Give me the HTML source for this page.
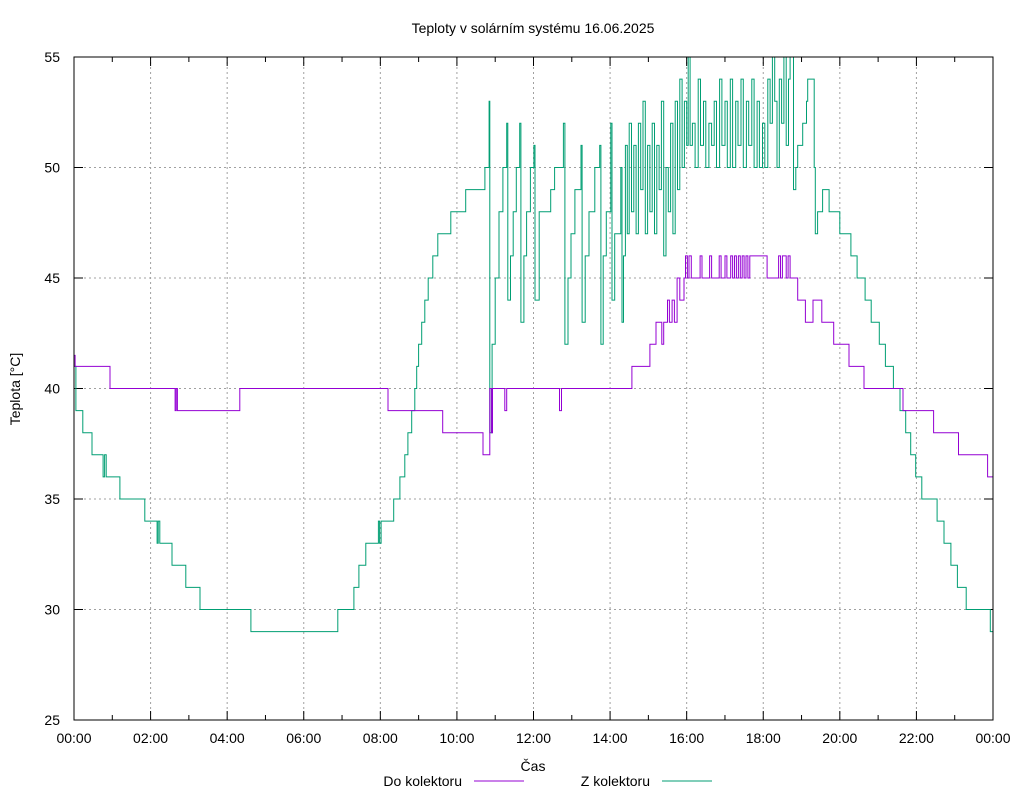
<!DOCTYPE html>
<html><head><meta charset="utf-8"><style>
body{margin:0;background:#fff;}
svg{display:block;font-family:"Liberation Sans",Arial,sans-serif;}
</style></head><body>
<svg id="chart" width="1024" height="800" viewBox="0 0 1024 800" xmlns="http://www.w3.org/2000/svg">
<rect x="0" y="0" width="1024" height="800" fill="#fff"/>
<text x="533" y="33" text-anchor="middle" font-size="14">Teploty v solárním systému 16.06.2025</text>
<g id="grid"></g>
<g id="ticks"></g>
<g id="series"></g>
<rect x="74" y="57" width="919" height="663" fill="none" stroke="#000" stroke-width="1"/>
<text x="20" y="389" text-anchor="middle" font-size="14" transform="rotate(-90 20 389)">Teplota [°C]</text>
<text x="533" y="771" text-anchor="middle" font-size="14">Čas</text>
<g>
<text x="462" y="786" text-anchor="end" font-size="14">Do kolektoru</text>
<line x1="474" y1="781" x2="524" y2="781" stroke="#9400d3" stroke-width="1"/>
</g>
<g>
<text x="650" y="786" text-anchor="end" font-size="14">Z kolektoru</text>
<line x1="662" y1="781" x2="712" y2="781" stroke="#009e73" stroke-width="1"/>
</g>
</svg>
<script>
const xTickLabels=["00:00","02:00","04:00","06:00","08:00","10:00","12:00","14:00","16:00","18:00","20:00","22:00","00:00"];
const yTickValues=[25,30,35,40,45,50,55];
// Do kolektoru: times (hours) and values (°C), step-after
const doTimes=[0,0.03,0.94,2.64,2.67,2.70,4.30,4.33,8.20,9.63,10.68,10.86,10.90,10.93,11.25,11.30,12.68,12.73,14.57,15.04,15.20,15.35,15.40,15.50,15.55,15.62,15.68,15.75,15.82,15.93,15.97,16.02,16.06,16.12,16.20,16.35,16.40,16.60,16.65,16.85,16.90,17.00,17.05,17.15,17.20,17.25,17.30,17.35,17.40,17.45,17.50,17.55,17.60,17.65,18.05,18.10,18.40,18.45,18.50,18.60,18.65,18.70,18.90,19.10,19.30,19.53,19.84,20.24,20.63,21.65,22.45,23.10,23.86];
const doValues=[41.5,41,40,39,40,39,39,40,39,38,37,40,38,40,39,40,39,40,41,42,43,42,43,44,43,44,43,45,44,45,46,45,46,45,45,46,45,46,45,46,45,46,45,46,45,46,45,46,45,46,45,46,45,46,46,45,46,45,46,45,46,45,44,43,44,43,42,41,40,39,38,37,36];
// Z kolektoru: [hour, °C] pairs, step-after
const zNight=[[0,41],[0.05,39],[0.23,38],[0.47,37],[0.76,36],[0.80,37],[0.84,36],[1.20,35],[1.85,34],[2.17,33],[2.20,34],[2.24,33],[2.56,32],[2.92,31],[3.29,30],[4.62,29],[6.89,30],[7.31,31],[7.44,32],[7.62,33],[7.95,34],[7.98,33],[8.02,34],[8.07,34],[8.35,35],[8.51,36],[8.64,37],[8.72,38],[8.82,39],[8.90,40],[8.95,41],[9.00,42],[9.08,43],[9.16,44],[9.25,45],[9.37,46],[9.50,47],[9.84,48],[10.23,49],[10.73,50],[10.84,53],[10.86,38]];
const zMorning=[[10.92,42],[11.00,45],[11.10,48],[11.20,50],[11.30,52],[11.33,44],[11.40,46],[11.47,48],[11.55,50],[11.64,52],[11.67,43],[11.75,46],[11.82,48],[11.92,50],[12.01,51],[12.04,44],[12.15,48],[12.45,49],[12.55,50],[12.78,52],[12.82,42],[12.90,45],[12.98,47],[13.08,49],[13.24,51],[13.27,43],[13.35,46],[13.45,48],[13.60,50],[13.73,51],[13.76,42],[13.82,46],[13.90,48],[14.02,52],[14.05,44],[14.12,47],[14.28,50],[14.31,43]];
const zNoon=[[14.35,46],[14.40,51],[14.45,47],[14.50,52],[14.56,48],[14.62,51],[14.68,47],[14.74,52],[14.80,49],[14.86,53],[14.92,47],[14.98,51],[15.04,48],[15.10,52],[15.16,47],[15.22,51],[15.28,49],[15.34,53],[15.40,46],[15.46,50],[15.52,48],[15.58,52],[15.64,47],[15.70,53],[15.76,49],[15.82,54],[15.88,50],[15.94,53],[16.00,51],[16.04,55],[16.09,51],[16.15,52],[16.22,50],[16.30,54],[16.36,51],[16.44,53],[16.50,50],[16.58,52],[16.65,51],[16.72,53],[16.78,50],[16.86,54],[16.92,51],[17.00,53],[17.06,50],[17.14,54],[17.20,50],[17.28,53],[17.34,51],[17.42,54],[17.48,50],[17.56,53],[17.62,51],[17.70,54],[17.76,50],[17.84,53],[17.90,50],[17.98,52],[18.04,50],[18.12,54],[18.18,52],[18.24,55],[18.30,53],[18.36,50],[18.42,54],[18.48,52],[18.54,55],[18.60,51],[18.66,54],[18.70,55]];
const zEvening=[[18.79,49],[18.85,50],[18.90,51],[19.03,52],[19.13,53],[19.16,54],[19.33,50],[19.36,47],[19.42,48],[19.55,49],[19.72,48],[20.00,47],[20.29,46],[20.45,45],[20.66,44],[20.82,43],[21.03,42],[21.19,41],[21.40,40],[21.57,39],[21.72,38],[21.85,37],[21.98,36],[22.14,35],[22.54,34],[22.72,33],[22.90,32],[23.07,31],[23.30,30],[23.93,29]];

const L=74,R=993,T=57,B=720,yMin=25,yMax=55;
const xs=h=>L+(R-L)*h/24;
const ys=v=>B-(B-T)*(v-yMin)/(yMax-yMin);
const NS="http://www.w3.org/2000/svg";
const grid=document.getElementById('grid'),ticks=document.getElementById('ticks'),series=document.getElementById('series');
function mk(tag,attrs,parent){const e=document.createElementNS(NS,tag);for(const k in attrs)e.setAttribute(k,attrs[k]);parent.appendChild(e);return e;}
xTickLabels.forEach((lab,i)=>{
  const x=xs(i*2);
  if(i>0&&i<xTickLabels.length-1){
    const g=mk('line',{x1:x,y1:T,x2:x,y2:B,stroke:'#a0a0a0','stroke-dasharray':'2,3'},grid);
    
    
  }
  const t1=mk('line',{x1:x,y1:B,x2:x,y2:B-9,stroke:'#000'},ticks);
  
  
  const t2=mk('line',{x1:x,y1:T,x2:x,y2:T+9,stroke:'#000'},ticks);
  
  
  const tx=mk('text',{x:x,y:B+23,'text-anchor':'middle','font-size':'14'},ticks);
  tx.textContent=lab;
  
  
  if(i<xTickLabels.length-1){
    const xm=xs(i*2+1);
    const m1=mk('line',{x1:xm,y1:B,x2:xm,y2:B-5,stroke:'#000'},ticks);
    
    
    const m2=mk('line',{x1:xm,y1:T,x2:xm,y2:T+5,stroke:'#000'},ticks);
    
    
  }
});
yTickValues.forEach((v,i)=>{
  const y=ys(v);
  if(i>0&&i<yTickValues.length-1){
    const g=mk('line',{x1:L,y1:y,x2:R,y2:y,stroke:'#a0a0a0','stroke-dasharray':'2,3'},grid);
    
    
  }
  const t1=mk('line',{x1:L,y1:y,x2:L+9,y2:y,stroke:'#000'},ticks);
  
  
  const t2=mk('line',{x1:R,y1:y,x2:R-9,y2:y,stroke:'#000'},ticks);
  
  
  const tx=mk('text',{x:L-14,y:y+5,'text-anchor':'end','font-size':'14'},ticks);
  tx.textContent=v;
  
  
});
function stepPath(t,v){
  let d='M'+xs(t[0]).toFixed(1)+','+ys(v[0]).toFixed(1);
  for(let i=1;i<t.length;i++){d+=' H'+xs(t[i]).toFixed(1)+' V'+ys(v[i]).toFixed(1);}
  d+=' H'+xs(24).toFixed(1);
  return d;
}
const zAll=zNight.concat(zMorning,zNoon,zEvening);
const pz=mk('path',{d:stepPath(zAll.map(p=>p[0]),zAll.map(p=>p[1])),fill:'none',stroke:'#009e73','stroke-width':'1'},series);


const pd=mk('path',{d:stepPath(doTimes,doValues),fill:'none',stroke:'#9400d3','stroke-width':'1'},series);


</script>
</body></html>
